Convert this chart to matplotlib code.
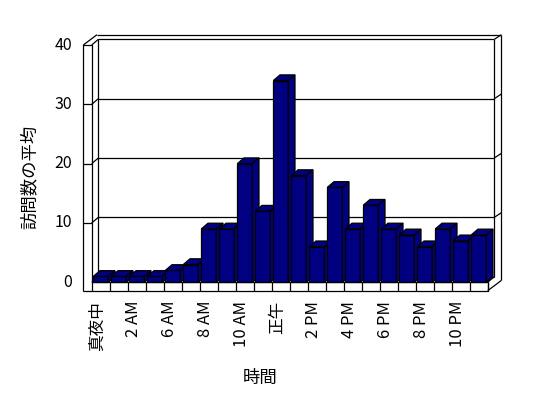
import matplotlib
matplotlib.use("Agg")
import matplotlib.pyplot as plt
from matplotlib.patches import Polygon

# ---- data ----
hours = ["真夜中", "1 AM", "2 AM", "3 AM", "6 AM", "7 AM", "8 AM", "9 AM",
         "10 AM", "11 AM", "正午", "1 PM", "2 PM", "3 PM", "4 PM", "5 PM",
         "6 PM", "7 PM", "8 PM", "9 PM", "10 PM", "11 PM"]
visits = [1, 1, 1, 1, 2, 3, 9, 9, 20, 12, 34, 18, 6, 16, 9, 13, 9, 8, 6, 9, 7, 8]
yticks = [0, 10, 20, 30, 40]
ylabel = "訪問数の平均"
xlabel = "時間"

plt.rcParams['font.family'] = ['Noto Sans CJK JP', 'DejaVu Sans']

W, H = 548, 398
fig = plt.figure(figsize=(W / 100, H / 100), dpi=100)
fig.patch.set_facecolor("white")

# front plane in pixels
fx0, fx1 = 91.7, 487.7
fy0, fy1 = 282.3, 45.0
ax = fig.add_axes([fx0 / W, (H - fy0) / H, (fx1 - fx0) / W, (fy0 - fy1) / H])
n = len(hours)
ax.set_xlim(0, n)
ax.set_ylim(0, 40)
ax.axis("off")

ux = (fx1 - fx0) / n          # px per category
uy = (fy0 - fy1) / 40.0       # px per value unit

DX, DY = 6.7 / ux, 5.7 / uy   # depth of plot area
OBX, OBY = 13.7 / ux, 10.3 / uy  # outer back offset
TX = 8.4 / ux                 # left wall thickness
TF = 8.4 / uy                 # floor thickness

lw = 0.9
kw = dict(color="black", lw=lw, clip_on=False, solid_capstyle="butt", zorder=1)

def line(xs, ys, z=1):
    ax.plot(xs, ys, **{**kw, "zorder": z})

top = yticks[-1]
# walls
line([-TX + OBX, n + OBX], [top + OBY, top + OBY])
line([n + OBX, n + OBX], [top + OBY, -TF + OBY])
line([-TX, -TX + OBX], [top, top + OBY])
line([-TX, -TX, 0, 0], [-TF, top, top, 0])
line([0, DX], [top, top + DY])
line([DX, n + DX], [top + DY, top + DY])
line([DX, DX], [top + DY, DY])
line([n + DX, n + DX], [top + DY, DY])
line([n + DX, n + OBX], [top + DY, top + OBY])
# floor
line([-TX, n, n], [-TF, -TF, 0])
line([0, n], [0, 0])
line([n, n + OBX], [-TF, -TF + OBY])
line([n, n + DX], [0, DY])
line([0, DX], [0, DY])
line([DX, n + DX], [DY, DY])
for k in range(n + 1):
    line([k, k], [-TF, 0])
# gridlines
for v in yticks[1:-1]:
    line([DX, n + DX], [v + DY, v + DY])
    line([0, DX], [v, v + DY])
    line([-TX, 0], [v, v])
    line([n + DX, n + OBX], [v + DY, v + OBY])

# bars
navy = "#000080"
bw = 15.0 / ux
boff = 1.6 / ux
for i, v in enumerate(visits):
    z = 3 + i * 0.01
    x0 = i + boff
    ax.bar(x0, v, width=bw, align="edge", color=navy, edgecolor="black",
           linewidth=lw, zorder=z, clip_on=False)
    topf = Polygon([(x0, v), (x0 + bw, v), (x0 + bw + DX, v + DY), (x0 + DX, v + DY)],
                   closed=True, facecolor=navy, edgecolor="black", linewidth=lw,
                   zorder=z, clip_on=False)
    side = Polygon([(x0 + bw, 0), (x0 + bw + DX, DY), (x0 + bw + DX, v + DY), (x0 + bw, v)],
                   closed=True, facecolor=navy, edgecolor="black", linewidth=lw,
                   zorder=z, clip_on=False)
    ax.add_patch(topf)
    ax.add_patch(side)

# y tick labels
for v in yticks:
    ax.text(-TX - 11.0 / ux, v, str(v), ha="right", va="center", fontsize=11.5,
            clip_on=False)

# x tick labels (every other category)
for i, lab in enumerate(hours):
    if i % 2 == 0:
        ax.text(i + 0.5 - 3.0 / ux, -TF - 10.0 / uy, lab, rotation=90,
                ha="center", va="top", fontsize=12, clip_on=False)

ax.text((30 - fx0) / ux, (fy0 - 177) / uy, ylabel, rotation=90, ha="center",
        va="center", fontsize=12.5, clip_on=False)
ax.text((260 - fx0) / ux, (fy0 - 378) / uy, xlabel, ha="center", va="center",
        fontsize=12.5, clip_on=False)

fig.savefig("out.png", dpi=100, facecolor="white")
